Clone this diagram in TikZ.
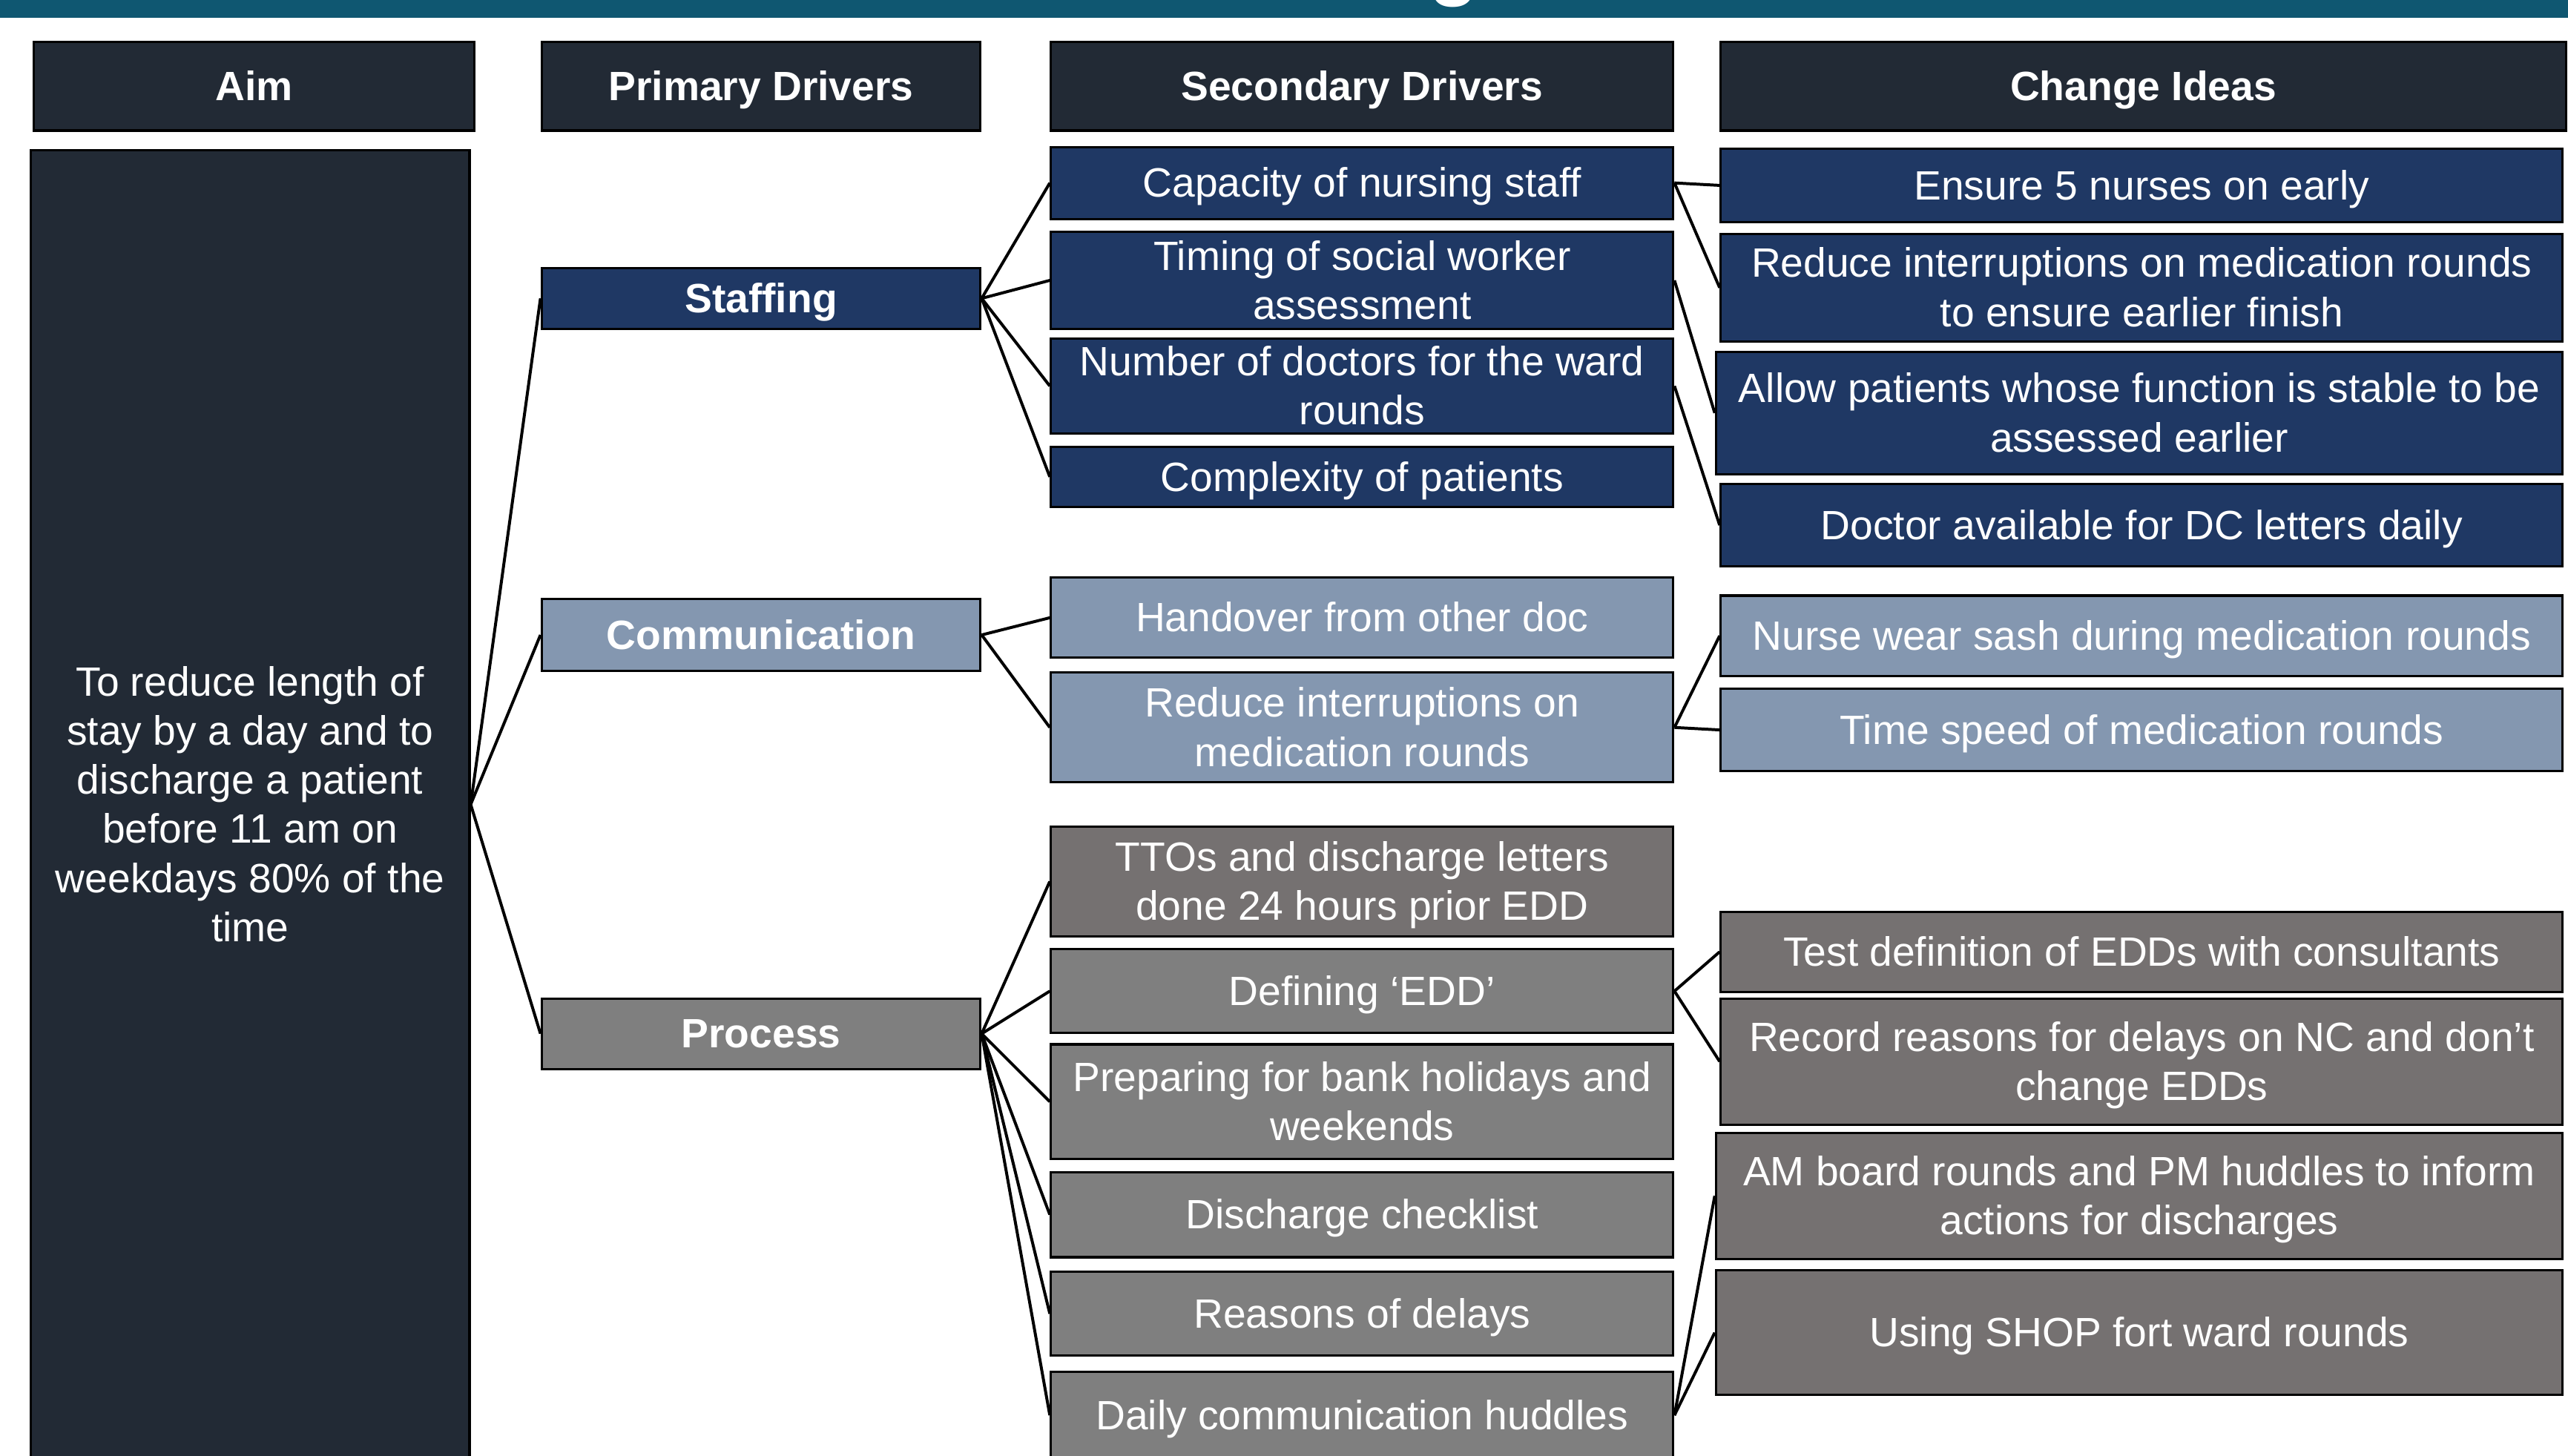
\documentclass[tikz,border=0pt]{standalone}
\usepackage{fontspec}
\setmainfont{Liberation Sans}
\definecolor{barteal}{HTML}{0F5771}
\definecolor{hdrdark}{HTML}{222A35}
\definecolor{navyfill}{HTML}{1F3864}
\definecolor{steelfill}{HTML}{8497B0}
\definecolor{greyfill}{HTML}{7F7F7F}
\definecolor{taupefill}{HTML}{757171}
% invisible strut with the font's ascent and descent, so text is centred like in a slide
\newcommand\boxstrut{\rule[-0.212em]{0pt}{1.117em}}
% \cellbox{name}{x1}{y1}{x2}{y2}{style}{text}: box given by its top-left and bottom-right corners
\newcommand\cellbox[7]{%
  \node[#6, anchor=north west,
        minimum width={(#4-#2)*0.5bp}, minimum height={(#5-#3)*0.5bp}]
        (#1) at (#2,#3) {\boxstrut#7\boxstrut};}
\begin{document}
\begin{tikzpicture}[x=0.5bp, y=-0.5bp,
  box/.style={draw=black, line width=0.7bp, text=white, align=center,
              inner sep=0pt, font=\fontsize{12.5bp}{15bp}\selectfont},
  hdr/.style={box, fill=hdrdark, font=\fontsize{12.5bp}{15bp}\selectfont\bfseries},
  aimbox/.style={box, fill=hdrdark},
  pnavy/.style={box, fill=navyfill, font=\fontsize{12.5bp}{15bp}\selectfont\bfseries},
  psteel/.style={box, fill=steelfill, font=\fontsize{12.5bp}{15bp}\selectfont\bfseries},
  pgrey/.style={box, fill=greyfill, font=\fontsize{12.5bp}{15bp}\selectfont\bfseries},
  navy/.style={box, fill=navyfill},
  steel/.style={box, fill=steelfill},
  grey/.style={box, fill=greyfill},
  taupe/.style={box, fill=taupefill},
  link/.style={draw=black, line width=0.9bp}]

\clip (0,0) rectangle (1568,889);
\fill[white] (0,0) rectangle (1568,889);

% title bar
\fill[barteal] (0,-5) rectangle (1568,11);
\begin{scope}
  \clip (0,0) rectangle (1568,11);
  \node[text=white, font=\fontsize{25bp}{30bp}\selectfont\bfseries, anchor=base, inner sep=0pt]
    (titleg) at (888,-6) {g};
\end{scope}

% column headers
\cellbox{haim}{20}{25}{289}{79}{hdr}{Aim}
\cellbox{hprim}{330}{25}{598}{79}{hdr}{Primary Drivers}
\cellbox{hsec}{641}{25}{1021}{79}{hdr}{Secondary Drivers}
\cellbox{hchg}{1050}{25}{1566}{79}{hdr}{Change Ideas}

% aim
\cellbox{aim}{18}{91}{286}{890}{aimbox}{To reduce length of\\stay by a day and to\\discharge a patient\\before 11 am on\\weekdays 80\% of the\\time}

% primary drivers
\cellbox{staff}{330}{163}{598}{200}{pnavy}{Staffing}
\cellbox{comm}{330}{365}{598}{409}{psteel}{Communication}
\cellbox{proc}{330}{609}{598}{652}{pgrey}{Process}

% secondary drivers
\cellbox{cap}{641}{89}{1021}{133}{navy}{Capacity of nursing staff}
\cellbox{timing}{641}{141}{1021}{200}{navy}{Timing of social worker\\assessment}
\cellbox{docs}{641}{206}{1021}{264}{navy}{Number of doctors for the ward\\rounds}
\cellbox{cplx}{641}{272}{1021}{309}{navy}{Complexity of patients}
\cellbox{handover}{641}{352}{1021}{401}{steel}{Handover from other doc}
\cellbox{interr}{641}{410}{1021}{477}{steel}{Reduce interruptions on\\medication rounds}
\cellbox{ttos}{641}{504}{1021}{571}{taupe}{TTOs and discharge letters\\done 24 hours prior EDD}
\cellbox{edd}{641}{579}{1021}{630}{grey}{Defining ‘EDD’}
\cellbox{bank}{641}{637}{1021}{707}{grey}{Preparing for bank holidays and\\weekends}
\cellbox{check}{641}{715}{1021}{767}{grey}{Discharge checklist}
\cellbox{delays}{641}{776}{1021}{827}{grey}{Reasons of delays}
\cellbox{huddle}{641}{837}{1021}{890}{grey}{Daily communication huddles}

% change ideas
\cellbox{nurses}{1050}{90}{1564}{135}{navy}{Ensure 5 nurses on early}
\cellbox{finish}{1050}{142}{1564}{208}{navy}{Reduce interruptions on medication rounds\\to ensure earlier finish}
\cellbox{stable}{1047}{214}{1564}{289}{navy}{Allow patients whose function is stable to be\\assessed earlier}
\cellbox{dcletters}{1050}{295}{1564}{345}{navy}{Doctor available for DC letters daily}
\cellbox{sash}{1050}{363}{1564}{412}{steel}{Nurse wear sash during medication rounds}
\cellbox{speed}{1050}{420}{1564}{470}{steel}{Time speed of medication rounds}
\cellbox{testedd}{1050}{556}{1564}{605}{taupe}{Test definition of EDDs with consultants}
\cellbox{record}{1050}{609}{1564}{686}{taupe}{Record reasons for delays on NC and don’t\\change EDDs}
\cellbox{board}{1047}{691}{1564}{768}{taupe}{AM board rounds and PM huddles to inform\\actions for discharges}
\cellbox{shop}{1047}{775}{1564}{851}{taupe}{Using SHOP fort ward rounds}

% aim to primary drivers
\foreach \p in {staff,comm,proc} \draw[link] (aim.east) -- (\p.west);

% primary to secondary drivers
\foreach \s in {cap,timing,docs,cplx} \draw[link] (staff.east) -- (\s.west);
\foreach \s in {handover,interr} \draw[link] (comm.east) -- (\s.west);
\foreach \s in {ttos,edd,bank,check,delays,huddle} \draw[link] (proc.east) -- (\s.west);

% secondary drivers to change ideas
\draw[link] (cap.east) -- (nurses.west);
\draw[link] (cap.east) -- (finish.west);
\draw[link] (timing.east) -- (stable.west);
\draw[link] (docs.east) -- (dcletters.west);
\draw[link] (interr.east) -- (sash.west);
\draw[link] (interr.east) -- (speed.west);
\draw[link] (edd.east) -- (testedd.west);
\draw[link] (edd.east) -- (record.west);
\draw[link] (huddle.east) -- (board.west);
\draw[link] (huddle.east) -- (shop.west);
\end{tikzpicture}
\end{document}
